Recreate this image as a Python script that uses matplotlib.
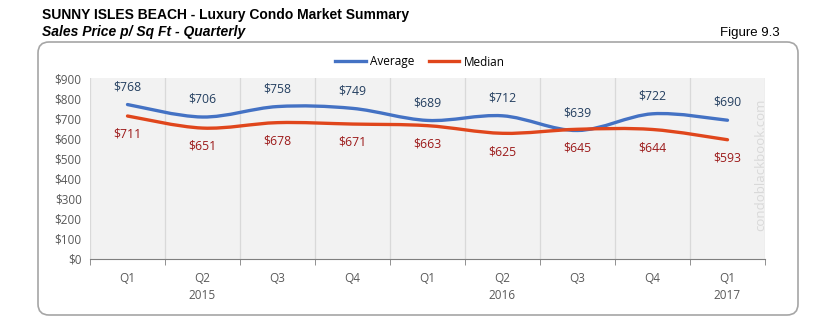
import matplotlib
matplotlib.use("Agg")
import matplotlib.pyplot as plt
from matplotlib.path import Path
from matplotlib.patches import PathPatch, FancyBboxPatch
from matplotlib.lines import Line2D

quarters = ["Q1", "Q2\n2015", "Q3", "Q4", "Q1", "Q2\n2016", "Q3", "Q4", "Q1\n2017"]
average = [768, 706, 758, 749, 689, 712, 639, 722, 690]
median = [711, 651, 678, 671, 663, 625, 645, 644, 593]
yticks = [0, 100, 200, 300, 400, 500, 600, 700, 800, 900]

BLUE = "#4472c4"
RED = "#e0461c"
TXT = "#595959"


def smooth_path(xs, ys):
    # bezier segments like excel "smoothed line"
    n = len(xs)
    verts = [(xs[0], ys[0])]
    codes = [Path.MOVETO]
    for i in range(n - 1):
        x0, y0 = (xs[i - 1], ys[i - 1]) if i > 0 else (xs[i], ys[i])
        x1, y1 = xs[i], ys[i]
        x2, y2 = xs[i + 1], ys[i + 1]
        x3, y3 = (xs[i + 2], ys[i + 2]) if i + 2 < n else (x2, y2)
        verts += [(x1 + (x2 - x0) / 6, y1 + (y2 - y0) / 6),
                  (x2 - (x3 - x1) / 6, y2 - (y3 - y1) / 6),
                  (x2, y2)]
        codes += [Path.CURVE4] * 3
    return Path(verts, codes)


fig = plt.figure(figsize=(8.37, 3.32), dpi=100)
fig.patch.set_facecolor("white")

# background axes in pixel units, for the rounded frame
bg = fig.add_axes([0, 0, 1, 1], zorder=-1)
bg.set_xlim(0, 837)
bg.set_ylim(332, 0)
bg.axis("off")
bg.add_patch(FancyBboxPatch((38, 42), 760, 273, boxstyle="round,pad=0,rounding_size=11",
                            facecolor="white", edgecolor="#a6a6a6", linewidth=1.2))

fig.text(42 / 837, 1 - 15 / 332, "SUNNY ISLES BEACH - Luxury Condo Market Summary",
         fontsize=10, fontweight="bold", family="Liberation Sans", va="center")
fig.text(42 / 837, 1 - 32 / 332, "Sales Price p/ Sq Ft - Quarterly",
         fontsize=10, fontweight="bold", style="italic", family="Liberation Sans", va="center")
fig.text(780 / 837, 1 - 33 / 332, "Figure 9.3", fontsize=9.5, family="Liberation Sans",
         ha="right", va="center")

ax = fig.add_axes([90 / 837, 1 - 259 / 332, 675 / 837, 181 / 332])
ax.set_facecolor("#f2f2f2")
xs = list(range(len(quarters)))

ax.add_patch(PathPatch(smooth_path(xs, average), fill=False, edgecolor=BLUE, lw=2.4,
                       capstyle="round", zorder=3))
ax.add_patch(PathPatch(smooth_path(xs, median), fill=False, edgecolor=RED, lw=2.4,
                       capstyle="round", zorder=3))

for x, v in zip(xs, average):
    ax.annotate(f"${v}", (x, v), xytext=(0, 12.8), textcoords="offset points",
                ha="center", va="center", fontsize=8.8, color="#243f60", family="Open Sans")
for x, v in zip(xs, median):
    ax.annotate(f"${v}", (x, v), xytext=(0, -13.2), textcoords="offset points",
                ha="center", va="center", fontsize=8.8, color="#9c1a1a", family="Open Sans")

ax.set_xlim(-0.5, 8.5)
ax.set_ylim(0, 900)
ax.set_yticks(yticks)
ax.set_yticklabels([f"${t}" for t in yticks])
ax.set_xticks(xs)
ax.set_xticklabels(quarters, linespacing=1.45)
ax.set_xticks([x + 0.5 for x in range(-1, len(quarters))], minor=True)
ax.tick_params(axis="x", which="major", length=0, pad=9, labelsize=8.5, labelcolor=TXT)
ax.tick_params(axis="x", which="minor", length=4, direction="out", color="#7f7f7f")
ax.tick_params(axis="y", length=0, pad=6, labelsize=8.5, labelcolor=TXT)
for lab in ax.get_xticklabels() + ax.get_yticklabels():
    lab.set_family("Open Sans")
ax.grid(axis="x", which="minor", color="#d9d9d9", lw=0.9)
for s in ["top", "right", "left"]:
    ax.spines[s].set_visible(False)
ax.spines["bottom"].set_color("#7f7f7f")

ax.text(0.993, 0.52, "condoblackbook.com", transform=ax.transAxes, rotation=90,
        ha="center", va="center", fontsize=9.5, color="#d9d9d9", family="Open Sans")

handles = [Line2D([], [], color=BLUE, lw=2.4), Line2D([], [], color=RED, lw=2.4)]
fig.legend(handles, ["Average", "Median"], loc="center", bbox_to_anchor=(420 / 837, 1 - 62 / 332),
           ncol=2, frameon=False, handlelength=2.6, columnspacing=1.2, handletextpad=0.4,
           prop={"family": "Open Sans", "size": 8.5})

fig.savefig("out.png", dpi=100)
